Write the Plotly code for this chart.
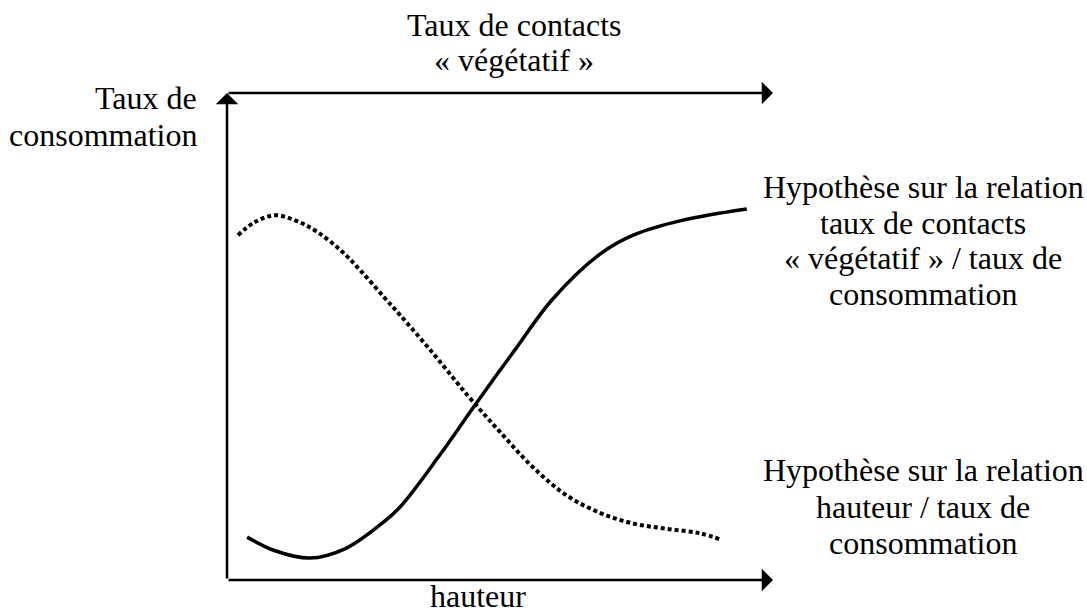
import plotly.graph_objects as go

# courbe "taux de contacts végétatif" (trait plein)
contacts_x = [3.7, 8.8, 15.2, 21.6, 28.0, 31.7, 39.0, 45.4, 52.7, 59.5, 68.3, 74.4, 83.5, 95.2]
contacts_y = [8.8, 6.0, 4.5, 6.4, 11.3, 15.0, 25.7, 35.9, 47.2, 57.5, 66.9, 70.8, 73.9, 76.2]

# courbe "hauteur" (pointillés)
hauteur_x = [2.0, 5.1, 8.8, 12.8, 16.5, 21.1, 24.9, 28.9, 31.7, 37.7, 44.0, 50.0, 56.0, 62.3, 68.3, 74.4, 80.6, 86.6, 90.7]
hauteur_y = [70.8, 73.5, 74.9, 73.7, 71.5, 67.4, 63.0, 57.9, 54.4, 46.6, 38.0, 30.4, 23.2, 17.3, 13.8, 11.6, 10.5, 9.6, 8.2]

titre_haut = ["Taux de contacts", "« végétatif »"]
titre_gauche = ["Taux de", "consommation"]
titre_bas = "hauteur"
legende_contacts = ["Hypothèse sur la relation", "taux de contacts", "« végétatif » / taux de", "consommation"]
legende_hauteur = ["Hypothèse sur la relation", "hauteur / taux de", "consommation"]

W, H = 1087, 612
L, R, T, B = 227, 773, 93, 580
FONT = dict(family="Liberation Serif, Times New Roman, serif", size=32, color="black")

fig = go.Figure()
fig.add_trace(go.Scatter(x=contacts_x, y=contacts_y, mode="lines",
                         line=dict(color="black", width=3.5, shape="spline", smoothing=1.0)))
fig.add_trace(go.Scatter(x=hauteur_x, y=hauteur_y, mode="lines",
                         line=dict(color="black", width=4, shape="spline", smoothing=1.0, dash="4px,3px")))

# axes avec flèches
for (x0, y0, x1, y1) in [(0, 0, 0, 100), (0, 100, 100, 100), (0, 0, 100, 0)]:
    fig.add_annotation(x=x1, y=y1, ax=x0, ay=y0, xref="x", yref="y", axref="x", ayref="y",
                       showarrow=True, arrowhead=1, arrowsize=1.5, arrowwidth=2.5,
                       arrowcolor="black", text="", standoff=0, startstandoff=0)


def texte(t, x, y, xanchor="center"):
    # position en pixels -> coordonnées paper (zone de tracé)
    fig.add_annotation(text=t, x=(x - L) / (R - L), y=(B - y) / (B - T),
                       xref="paper", yref="paper", showarrow=False, borderpad=0,
                       xanchor=xanchor, yanchor="middle", font=FONT)


for i, t in enumerate(titre_haut):
    texte(t, 514, 25 + i * 35)
for i, t in enumerate(titre_gauche):
    texte(t, 198, 98 + i * 37, xanchor="right")
for i, t in enumerate(legende_contacts):
    texte(t, 923, 187 + i * 35.5)
for i, t in enumerate(legende_hauteur):
    texte(t, 923, 470 + i * 36.5)
texte(titre_bas, 478, 596)

fig.update_xaxes(range=[0, 100], visible=False)
fig.update_yaxes(range=[0, 100], visible=False)
fig.update_layout(width=W, height=H, margin=dict(l=L, r=W - R, t=T, b=H - B),
                  plot_bgcolor="white", paper_bgcolor="white", showlegend=False)
# pas de marge autour de la page
fig.write_html("out.html", config={"displayModeBar": False},
               post_script="document.body.style.margin='0';document.body.style.overflow='hidden';")
